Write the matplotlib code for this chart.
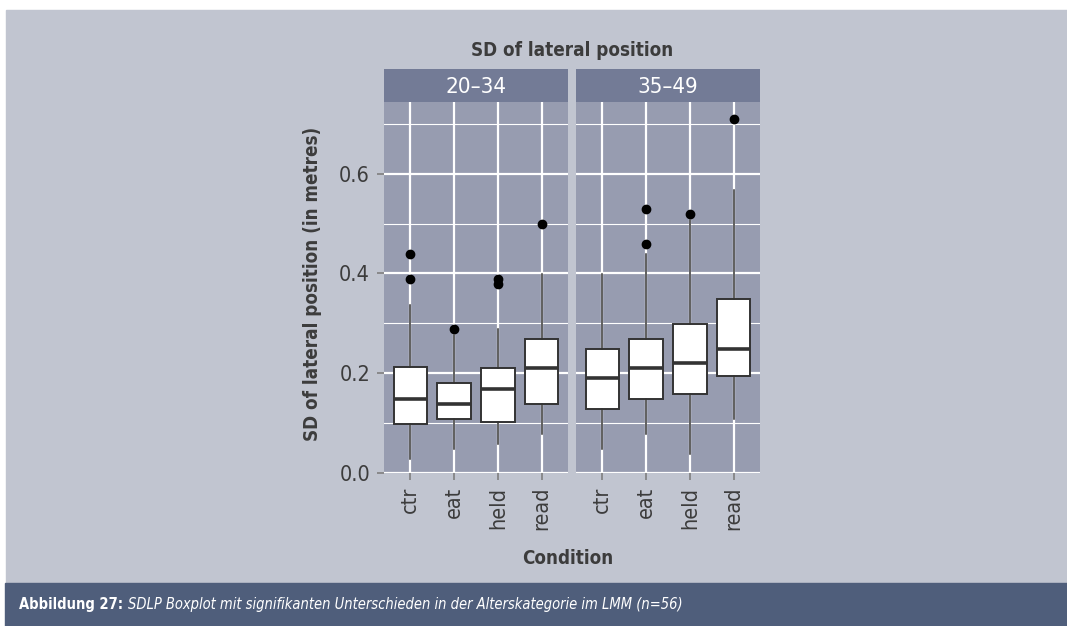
import matplotlib
matplotlib.use("Agg")
import matplotlib.pyplot as plt
from matplotlib.patches import Rectangle
from matplotlib.ticker import MultipleLocator

plt.rcParams["font.family"] = ["Liberation Sans Narrow", "DejaVu Sans"]
plt.rcParams["font.stretch"] = "condensed"

# box statistics per age group (SDLP in metres)
conditions = ["ctr", "eat", "held", "read"]
groups = ["20\u201334", "35\u201349"]

q1_young = [0.098, 0.108, 0.102, 0.138]
med_young = [0.148, 0.138, 0.168, 0.210]
q3_young = [0.212, 0.179, 0.209, 0.269]
lo_young = [0.027, 0.047, 0.058, 0.078]
hi_young = [0.337, 0.277, 0.288, 0.399]
out_young = [[0.389, 0.439], [0.288], [0.379, 0.389], [0.499]]

q1_old = [0.128, 0.148, 0.158, 0.193]
med_old = [0.189, 0.209, 0.219, 0.249]
q3_old = [0.249, 0.269, 0.299, 0.348]
lo_old = [0.047, 0.078, 0.038, 0.108]
hi_old = [0.399, 0.439, 0.508, 0.568]
out_old = [[], [0.459, 0.529], [0.519], [0.709]]

BG = "#c1c5d0"
PANEL = "#979cb0"
STRIP = "#737b96"
BAR = "#4f5e7b"
INK = "#333333"
TXT = "#3c3c3c"

W, H = 1067, 626


def px(left, top, right, bottom):
    return [left / W, 1 - bottom / H, (right - left) / W, (bottom - top) / H]


def stats(q1, med, q3, lo, hi, fl):
    return [dict(q1=a, med=b, q3=c, whislo=d, whishi=e, fliers=f)
            for a, b, c, d, e, f in zip(q1, med, q3, lo, hi, fl)]


fig = plt.figure(figsize=(W / 100, H / 100), dpi=100)
fig.patch.set_facecolor("white")
fig.add_artist(Rectangle((6 / W, 0), 1 - 6 / W, 1 - 10 / H,
                         transform=fig.transFigure, color=BG, zorder=-2))
fig.add_artist(Rectangle((5 / W, 0), 1 - 5 / W, 43 / H,
                         transform=fig.transFigure, color=BAR, zorder=-1))

panels = [
    (groups[0], stats(q1_young, med_young, q3_young, lo_young, hi_young, out_young), 384, 568),
    (groups[1], stats(q1_old, med_old, q3_old, lo_old, hi_old, out_old), 576, 760),
]
pos = list(range(1, len(conditions) + 1))

for i, (grp, st, x0, x1) in enumerate(panels):
    ax = fig.add_axes(px(x0, 102, x1, 473))
    ax.set_facecolor(PANEL)
    ax.bxp(st, positions=pos, widths=0.76, showcaps=False, patch_artist=True,
           manage_ticks=False,
           boxprops=dict(facecolor="white", edgecolor=INK, lw=1.4),
           medianprops=dict(color=INK, lw=2.6),
           whiskerprops=dict(color=INK, lw=1.1),
           flierprops=dict(marker="o", markerfacecolor="black",
                           markeredgecolor="black", markersize=6))
    ax.set_xlim(0.4, 4.6)
    ax.set_ylim(-0.001, 0.744)
    ax.yaxis.set_major_locator(MultipleLocator(0.2))
    ax.yaxis.set_minor_locator(MultipleLocator(0.1))
    ax.set_xticks(pos)
    ax.set_xticklabels(conditions, rotation=90)
    ax.grid(True, which="major", color="white", lw=1.6)
    ax.grid(True, which="minor", axis="y", color="white", lw=0.8)
    ax.set_axisbelow(True)
    for s in ax.spines.values():
        s.set_visible(False)
    ax.tick_params(which="major", color="#7f7f7f", length=5, width=1.2,
                   labelsize=15.5, labelcolor=TXT, pad=5)
    ax.tick_params(which="minor", length=0)
    if i == 0:
        ax.set_yticks([0.0, 0.2, 0.4, 0.6])
        ax.set_yticklabels(["0.0", "0.2", "0.4", "0.6"])
    else:
        ax.tick_params(axis="y", length=0, labelleft=False)

    sx = fig.add_axes(px(x0, 69, x1, 102))
    sx.set_facecolor(STRIP)
    sx.set_xticks([])
    sx.set_yticks([])
    for s in sx.spines.values():
        s.set_visible(False)
    sx.text(0.5, 0.45, grp, ha="center", va="center", color="white",
            fontsize=16, transform=sx.transAxes)

fig.text(572 / W, 1 - 50 / H, "SD of lateral position", ha="center", va="center",
         fontsize=13.5, fontweight="bold", color=TXT)
fig.text(312 / W, 1 - 284 / H, "SD of lateral position (in metres)", ha="center",
         va="center", rotation=90, fontsize=13.5, fontweight="bold", color=TXT)
fig.text(568 / W, 1 - 558 / H, "Condition", ha="center", va="center",
         fontsize=13.5, fontweight="bold", color=TXT)

cap = fig.text(19 / W, 1 - 605 / H, "Abbildung 27: ", ha="left", va="center",
               fontsize=10.5, fontweight="bold", color="white")
fig.canvas.draw()
bb = cap.get_window_extent()
fig.text(bb.x1 / W, 1 - 605 / H,
         "SDLP Boxplot mit signifikanten Unterschieden in der Alterskategorie im LMM (n=56)",
         ha="left", va="center", fontsize=10.5, fontstyle="italic", color="white")

fig.savefig("out.png", dpi=100)
